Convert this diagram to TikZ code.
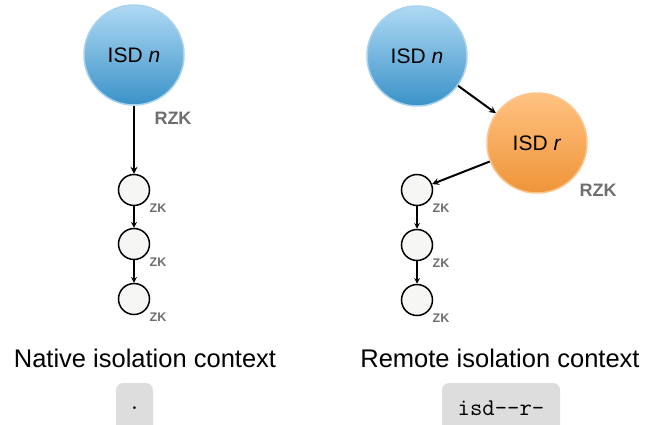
\documentclass[tikz,border=0pt]{standalone}
\usepackage{fontspec}
\setmainfont{Liberation Sans}
\usetikzlibrary{positioning, calc}

\definecolor{bluetop}{HTML}{AFD9F4}
\definecolor{bluebot}{HTML}{3A92C8}
\definecolor{blueline}{HTML}{A8D2EF}
\definecolor{orangetop}{HTML}{FFC282}
\definecolor{orangebot}{HTML}{EF9438}
\definecolor{orangeline}{HTML}{FDC58C}
\definecolor{zonefill}{HTML}{F6F6F4}
\definecolor{labelgray}{HTML}{6E6E6E}
\definecolor{boxgray}{HTML}{DDDDDD}

\tikzset{
  isd/.style={circle, minimum size=100, inner sep=0, line width=1.5, font=\fontsize{21}{24}\selectfont},
  isdnative/.style={isd, top color=bluetop, bottom color=bluebot, draw=blueline},
  isdremote/.style={isd, top color=orangetop, bottom color=orangebot, draw=orangeline},
  zone/.style={circle, draw=black, fill=zonefill, line width=1.5, minimum size=31, inner sep=0},
  rzklabel/.style={text=labelgray, font=\bfseries\fontsize{18}{20}\selectfont},
  zklabel/.style={text=labelgray, inner sep=1, font=\bfseries\fontsize{12.5}{13}\selectfont},
  ctxlabel/.style={font=\fontsize{25.5}{28}\selectfont},
  ctxbox/.style={fill=boxgray, rounded corners=7, minimum height=50, inner sep=0, font=\ttfamily\fontsize{24}{26}\selectfont},
  biglink/.style={-stealth, line width=2},
  smalllink/.style={-stealth, line width=1.5}
}

\begin{document}
\begin{tikzpicture}[x=1pt, y=-1pt]
  \useasboundingbox (0,0) rectangle (646,424);

  % contexte natif
  \node[isdnative] (natn) at (134,55) {ISD \textit{n}};
  \node[zone] (nz1) at (134,190) {};
  \node[zone] (nz2) at (134,244) {};
  \node[zone] (nz3) at (134,299) {};
  \node[rzklabel] (natrzk) at (173,118) {RZK};
  \node[zklabel, below right=1pt and 3pt of nz1] (nzk1) {ZK};
  \node[zklabel, below right=1pt and 3pt of nz2] (nzk2) {ZK};
  \node[zklabel, below right=1pt and 3pt of nz3] (nzk3) {ZK};
  \draw[biglink] (natn) -- (nz1);
  \draw[smalllink] (nz1) -- (nz2);
  \draw[smalllink] (nz2) -- (nz3);

  % contexte distant
  \node[isdnative] (remn) at (417,56) {ISD \textit{n}};
  \node[isdremote] (remr) at (537,143) {ISD \textit{r}};
  \node[zone] (rz1) at (417,190) {};
  \node[zone] (rz2) at (417,245) {};
  \node[zone] (rz3) at (417,300) {};
  \node[rzklabel] (remrzk) at (598,190) {RZK};
  \node[zklabel, below right=1pt and 3pt of rz1] (rzk1) {ZK};
  \node[zklabel, below right=1pt and 3pt of rz2] (rzk2) {ZK};
  \node[zklabel, below right=1pt and 3pt of rz3] (rzk3) {ZK};
  \draw[biglink] (remn) -- (remr);
  \draw[biglink] (remr) -- (rz1);
  \draw[smalllink] (rz1) -- (rz2);
  \draw[smalllink] (rz2) -- (rz3);

  % légendes
  \node[ctxlabel] (natlabel) at (145,358) {Native isolation context};
  \node[ctxlabel] (remlabel) at (500,358) {Remote isolation context};
  \node[ctxbox, minimum width=37] (natbox) at (134.5,408) {.};
  \node[ctxbox, minimum width=118] (rembox) at (501,408) {isd--r-};
\end{tikzpicture}
\end{document}
